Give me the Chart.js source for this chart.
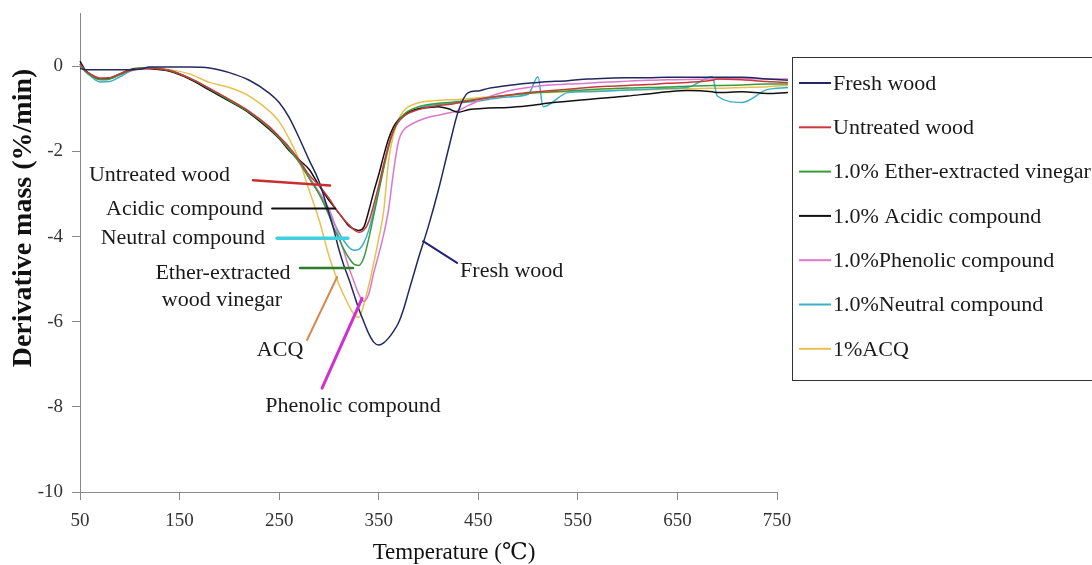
<!DOCTYPE html>
<html>
<head>
<meta charset="utf-8">
<script src="https://cdn.jsdelivr.net/npm/chart.js@4.4.0/dist/chart.umd.min.js"></script>
<style>
  html, body { margin: 0; padding: 0; background: #fff; }
  canvas { display: block; }
</style>
</head>
<body>
<canvas id="dtgChart" width="1092" height="565"></canvas>
<script>
// temperature grid (°C) shared by all curves
const temps = [50, 55, 60, 70, 80, 90, 100, 110, 120, 140, 160, 180, 200, 220, 240, 250, 260, 270, 280, 290,
  300, 305, 310, 315, 320, 325, 330, 335, 340, 345, 350, 355, 360, 365, 370, 375, 380, 390, 400, 410,
  420, 430, 440, 450, 460, 480, 500, 510, 515, 540, 560, 580, 600, 620, 640, 660, 685, 690, 715, 740, 761];

// derivative mass (%/min)
const freshWood = [-0.05, -0.08, -0.08, -0.08, -0.08, -0.08, -0.08, -0.07, -0.02, -0.02, -0.02, -0.04, -0.15, -0.33, -0.63, -0.85, -1.2, -1.68, -2.2, -2.7,
  -3.45, -3.85, -4.3, -4.68, -5.0, -5.35, -5.7, -6.0, -6.28, -6.48, -6.55, -6.5, -6.38, -6.22, -6.02, -5.7, -5.3, -4.5, -3.75, -2.9,
  -1.95, -1.05, -0.62, -0.58, -0.52, -0.45, -0.4, -0.38, -0.37, -0.34, -0.3, -0.28, -0.27, -0.27, -0.26, -0.26, -0.26, -0.26, -0.26, -0.3, -0.33];
const untreated = [0.05, -0.1, -0.18, -0.28, -0.27, -0.18, -0.1, -0.06, -0.05, -0.1, -0.28, -0.52, -0.78, -1.06, -1.42, -1.65, -1.9, -2.2, -2.55, -2.8,
  -3.1, -3.28, -3.45, -3.6, -3.72, -3.84, -3.9, -3.85, -3.65, -3.25, -2.8, -2.3, -1.85, -1.5, -1.3, -1.18, -1.1, -1.02, -0.96, -0.92,
  -0.9, -0.86, -0.82, -0.78, -0.74, -0.68, -0.62, -0.6, -0.59, -0.54, -0.5, -0.47, -0.45, -0.43, -0.4, -0.38, -0.33, -0.3, -0.32, -0.36, -0.38];
const etherVinegar = [0.05, -0.1, -0.2, -0.32, -0.3, -0.2, -0.1, -0.05, -0.04, -0.1, -0.28, -0.53, -0.8, -1.08, -1.45, -1.68, -1.95, -2.25, -2.62, -3.0,
  -3.5, -3.8, -4.05, -4.3, -4.5, -4.65, -4.68, -4.5, -4.05, -3.5, -2.95, -2.4, -1.9, -1.5, -1.28, -1.14, -1.05, -0.95, -0.9, -0.87,
  -0.85, -0.83, -0.8, -0.77, -0.74, -0.68, -0.64, -0.62, -0.61, -0.58, -0.55, -0.53, -0.51, -0.5, -0.49, -0.47, -0.45, -0.45, -0.44, -0.42, -0.42];
const acidic = [0.12, -0.08, -0.18, -0.3, -0.28, -0.18, -0.08, -0.05, -0.06, -0.12, -0.3, -0.56, -0.82, -1.1, -1.48, -1.7, -1.98, -2.2, -2.42, -2.8,
  -3.15, -3.3, -3.45, -3.6, -3.75, -3.82, -3.86, -3.78, -3.4, -2.95, -2.55, -2.1, -1.7, -1.42, -1.25, -1.15, -1.08, -1.0, -0.97, -0.95,
  -1.0, -1.08, -1.02, -1.0, -0.98, -0.97, -0.93, -0.9, -0.88, -0.82, -0.78, -0.74, -0.7, -0.65, -0.6, -0.57, -0.6, -0.62, -0.6, -0.64, -0.62];
const phenolic = [0.05, -0.1, -0.18, -0.28, -0.28, -0.2, -0.1, -0.06, -0.05, -0.1, -0.28, -0.53, -0.8, -1.08, -1.45, -1.68, -1.95, -2.25, -2.6, -2.95,
  -3.35, -3.65, -4.0, -4.35, -4.72, -5.05, -5.35, -5.52, -5.35, -4.85, -4.42, -3.95, -3.35, -2.45, -1.75, -1.5, -1.4, -1.28, -1.2, -1.15,
  -1.1, -1.04, -0.92, -0.82, -0.72, -0.58, -0.5, -0.47, -0.45, -0.42, -0.4, -0.37, -0.35, -0.33, -0.32, -0.31, -0.3, -0.3, -0.29, -0.3, -0.3];
const neutral = [0.0, -0.12, -0.22, -0.37, -0.36, -0.25, -0.12, -0.06, -0.05, -0.1, -0.28, -0.52, -0.8, -1.08, -1.45, -1.68, -1.95, -2.25, -2.62, -2.98,
  -3.42, -3.68, -3.9, -4.1, -4.25, -4.32, -4.3, -4.15, -3.85, -3.4, -2.9, -2.35, -1.85, -1.5, -1.3, -1.18, -1.1, -1.0, -0.92, -0.9,
  -0.88, -0.86, -0.84, -0.82, -0.78, -0.72, -0.66, -0.25, -0.95, -0.62, -0.6, -0.58, -0.56, -0.54, -0.52, -0.5, -0.25, -0.7, -0.85, -0.55, -0.5];
const acq = [0.0, -0.1, -0.2, -0.3, -0.28, -0.2, -0.1, -0.05, -0.03, -0.08, -0.18, -0.38, -0.5, -0.7, -1.05, -1.3, -1.7, -2.2, -2.9, -3.6,
  -4.45, -4.8, -5.12, -5.38, -5.62, -5.82, -5.9, -5.6, -5.15, -4.62, -4.05, -3.4, -2.2, -1.6, -1.25, -1.05, -0.95, -0.86, -0.82, -0.8,
  -0.79, -0.78, -0.76, -0.74, -0.72, -0.68, -0.64, -0.62, -0.62, -0.6, -0.58, -0.57, -0.56, -0.55, -0.54, -0.53, -0.52, -0.52, -0.5, -0.48, -0.45];

const seriesLabels = ['Fresh wood', 'Untreated wood', '1.0% Ether-extracted vinegar', '1.0% Acidic compound',
  '1.0%Phenolic compound', '1.0%Neutral compound', '1%ACQ'];
const seriesValues = [freshWood, untreated, etherVinegar, acidic, phenolic, neutral, acq];
const seriesColors = ['#23285e', '#c83a3a', '#3a9a3a', '#111111', '#dd77cc', '#3ab0c8', '#e8c050'];

const xTicks = [50, 150, 250, 350, 450, 550, 650, 750];
const yTicks = [-10, -8, -6, -4, -2, 0];

// callout text + leader lines, in data units
const calloutTexts = [
  { text: 'Untreated wood', at: [200.7, -2.56], align: 'right' },
  { text: 'Acidic compound', at: [233.8, -3.36], align: 'right' },
  { text: 'Neutral compound', at: [235.8, -4.05], align: 'right' },
  { text: 'Ether-extracted', at: [193.6, -4.86], align: 'center' },
  { text: 'wood vinegar', at: [192.6, -5.49], align: 'center' },
  { text: 'ACQ', at: [250.9, -6.67], align: 'center' },
  { text: 'Phenolic compound', at: [324.2, -7.98], align: 'center' },
  { text: 'Fresh wood', at: [431.7, -4.81], align: 'left' }
];
const calloutLines = [
  { from: [223.8, -2.68], to: [301.1, -2.8], color: '#c83030', width: 2.5 },
  { from: [242.9, -3.34], to: [306.2, -3.34], color: '#111111', width: 2 },
  { from: [247.9, -4.04], to: [319.0, -4.04], color: '#40d0e0', width: 3.5 },
  { from: [271.0, -4.74], to: [324.2, -4.74], color: '#2a7d2a', width: 2.5 },
  { from: [278.0, -6.43], to: [308.2, -4.95], color: '#d88a50', width: 2 },
  { from: [293.1, -7.56], to: [333.3, -5.45], color: '#d030d0', width: 3 },
  { from: [428.7, -4.62], to: [394.5, -4.11], color: '#23237a', width: 2 }
];

const serif = '"Liberation Serif", "DejaVu Serif", serif';

const calloutPlugin = {
  id: 'callouts',
  afterDatasetsDraw(chart) {
    const { ctx, scales: { x, y } } = chart;
    ctx.save();
    ctx.lineCap = 'round';
    calloutLines.forEach(l => {
      ctx.strokeStyle = l.color;
      ctx.lineWidth = l.width;
      ctx.beginPath();
      ctx.moveTo(x.getPixelForValue(l.from[0]), y.getPixelForValue(l.from[1]));
      ctx.lineTo(x.getPixelForValue(l.to[0]), y.getPixelForValue(l.to[1]));
      ctx.stroke();
    });
    ctx.font = '22px ' + serif;
    ctx.fillStyle = '#1a1a1a';
    ctx.textBaseline = 'middle';
    calloutTexts.forEach(t => {
      ctx.textAlign = t.align;
      ctx.fillText(t.text, x.getPixelForValue(t.at[0]), y.getPixelForValue(t.at[1]));
    });
    ctx.restore();
  }
};

// boxed legend on the right + axis titles
const sidePlugin = {
  id: 'side',
  afterDraw(chart) {
    const ctx = chart.ctx;
    ctx.save();
    ctx.strokeStyle = '#333';
    ctx.lineWidth = 1;
    ctx.strokeRect(792.5, 57.5, 400, 323);
    ctx.font = '22px ' + serif;
    ctx.textAlign = 'left';
    ctx.textBaseline = 'middle';
    chart.data.datasets.forEach((ds, i) => {
      const yy = 83 + i * 44.3;
      ctx.strokeStyle = ds.borderColor;
      ctx.lineWidth = 2;
      ctx.beginPath();
      ctx.moveTo(799, yy);
      ctx.lineTo(831, yy);
      ctx.stroke();
      ctx.fillStyle = '#1a1a1a';
      ctx.fillText(ds.label, 833, yy + 1);
    });

    ctx.fillStyle = '#111';
    ctx.font = '23px ' + serif;
    ctx.textAlign = 'center';
    ctx.textBaseline = 'alphabetic';
    ctx.fillText('Temperature (\u2103)', 454, 559);

    ctx.translate(24, 218);
    ctx.rotate(-Math.PI / 2);
    ctx.font = 'bold 28px ' + serif;
    ctx.textBaseline = 'middle';
    ctx.fillText('Derivative mass (%/min)', 0, 0);
    ctx.restore();
  }
};

new Chart(document.getElementById('dtgChart'), {
  type: 'line',
  data: {
    datasets: seriesLabels.map((label, i) => ({
      label: label,
      data: temps.map((t, j) => ({ x: t, y: seriesValues[i][j] })),
      borderColor: seriesColors[i],
      borderWidth: 1.5,
      pointRadius: 0,
      cubicInterpolationMode: 'monotone',
      clip: false
    }))
  },
  options: {
    responsive: false,
    animation: false,
    devicePixelRatio: 1,
    layout: { padding: { top: 13, right: 315, left: 0, bottom: 0 } },
    plugins: { legend: { display: false }, tooltip: { enabled: false } },
    scales: {
      x: {
        type: 'linear',
        min: 50,
        max: 750,
        afterBuildTicks: s => { s.ticks = xTicks.map(v => ({ value: v })); },
        afterFit: s => { s.height = 73; s.paddingLeft = 0; s.paddingRight = 0; },
        grid: { drawOnChartArea: false, drawTicks: true, tickLength: 8, color: '#888' },
        border: { color: '#888', width: 1 },
        ticks: { color: '#333', font: { family: serif, size: 19 }, padding: 10, maxRotation: 0 }
      },
      y: {
        type: 'linear',
        min: -10,
        max: 1.25,
        afterBuildTicks: s => { s.ticks = yTicks.map(v => ({ value: v })); },
        afterFit: s => { s.width = 80; s.paddingTop = 0; s.paddingBottom = 0; },
        grid: { drawOnChartArea: false, drawTicks: true, tickLength: 8, color: '#888' },
        border: { color: '#888', width: 1 },
        ticks: { color: '#333', font: { family: serif, size: 19 }, padding: 9 }
      }
    }
  },
  plugins: [calloutPlugin, sidePlugin]
});
</script>
</body>
</html>
